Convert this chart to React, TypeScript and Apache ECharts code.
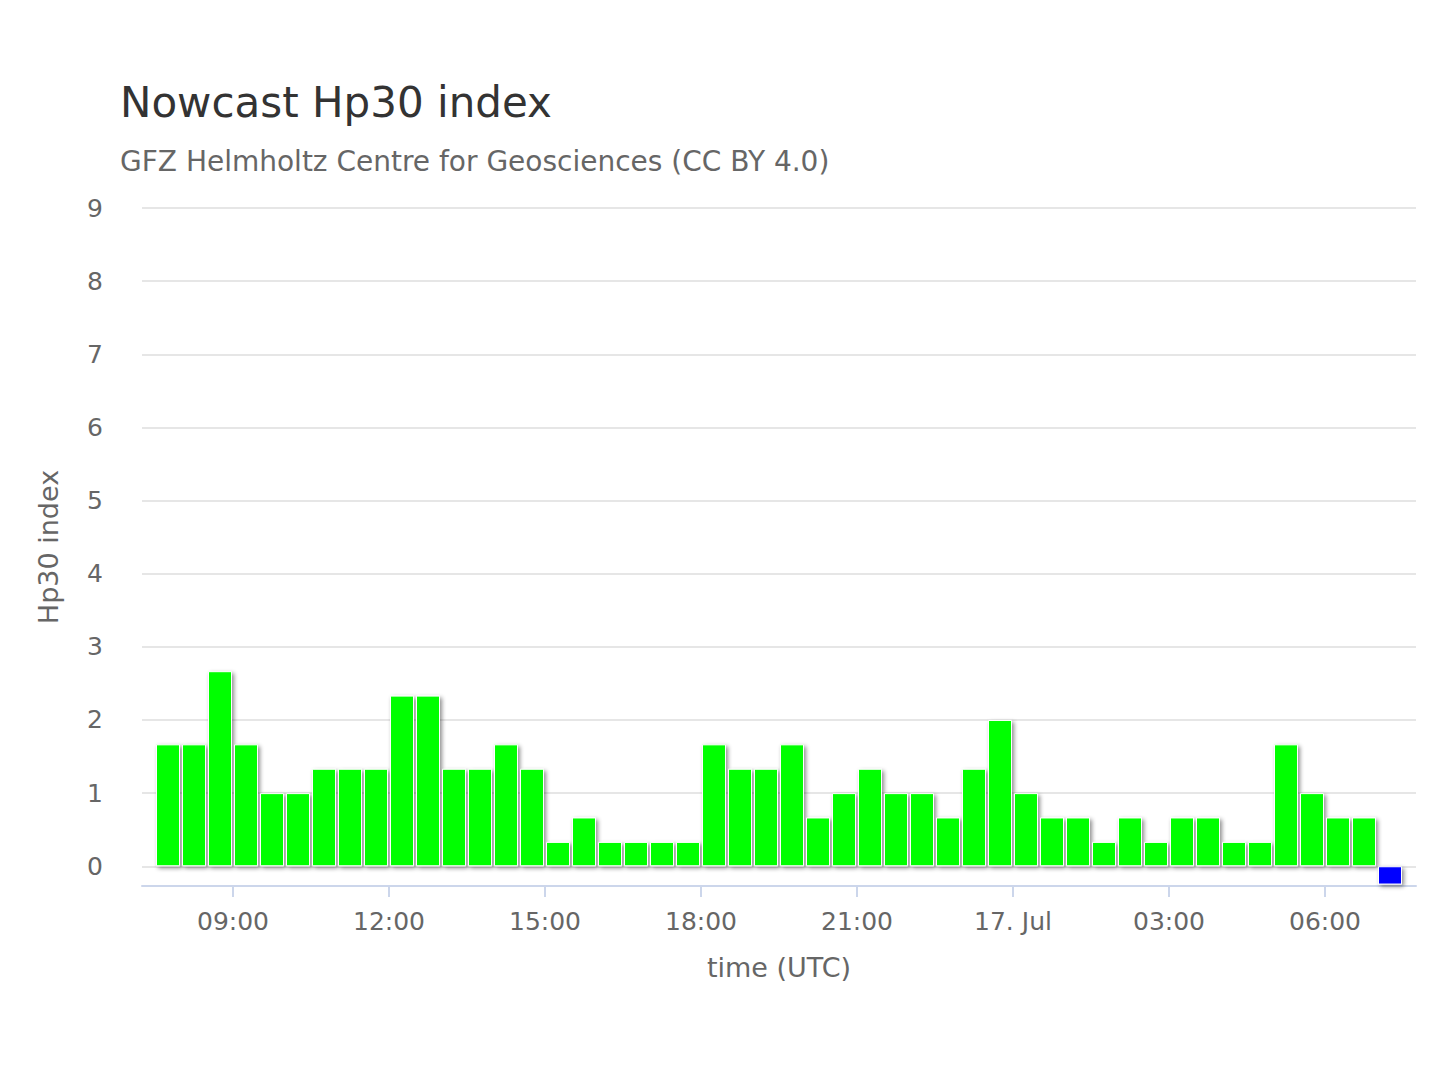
import React, { useEffect, useRef } from "react";
import * as echarts from "echarts";

// Time in hours since 16 Jul 00:00 UTC. Half-hourly Hp30 bars, first bar centred at 07:45.
const startCentreHour = 7.75;
const stepHour = 0.5;
const hp30Values = [
  1.667, 1.667, 2.667, 1.667, 1.0, 1.0, 1.333, 1.333, 1.333, 2.333, 2.333, 1.333,
  1.333, 1.667, 1.333, 0.333, 0.667, 0.333, 0.333, 0.333, 0.333, 1.667, 1.333, 1.333,
  1.667, 0.667, 1.0, 1.333, 1.0, 1.0, 0.667, 1.333, 2.0, 1.0, 0.667, 0.667,
  0.333, 0.667, 0.333, 0.667, 0.667, 0.333, 0.333, 1.667, 1.0, 0.667, 0.667, -0.25,
];
const pendingIndex = 47; // last (not yet final) value drawn in blue
const xMin = 7.25;
const xMax = 31.75;
const xTicks = [9, 12, 15, 18, 21, 24, 27, 30];
const yTicks = [0, 1, 2, 3, 4, 5, 6, 7, 8, 9];
const yMin = -0.27;
const yMax = 9;

const FONT = "'DejaVu Sans', 'Lucida Grande', sans-serif";

function fmtX(v: number): string {
  const h = Math.round(v) % 24;
  if (h === 0) return "17. Jul";
  return `${String(h).padStart(2, "0")}:00`;
}

export default function App() {
  const ref = useRef<HTMLDivElement>(null);
  useEffect(() => {
    document.body.style.margin = "0";
    if (!ref.current) return;
    const chart = echarts.init(ref.current, undefined, { renderer: "svg" });
    const data = hp30Values.map((v, i) => {
      const item: any = { value: [startCentreHour + i * stepHour, v] };
      if (i === pendingIndex) item.itemStyle = { color: "#0000ff" };
      return item;
    });
    chart.setOption({
      animation: false,
      backgroundColor: "#ffffff",
      textStyle: { fontFamily: FONT },
      title: [
        {
          text: "Nowcast Hp30 index",
          left: 120,
          top: 81,
          padding: 0,
          textStyle: { fontSize: 42, fontWeight: "normal", color: "#333333", fontFamily: FONT },
        },
        {
          text: "GFZ Helmholtz Centre for Geosciences (CC BY 4.0)",
          left: 120,
          top: 147,
          padding: 0,
          textStyle: { fontSize: 28, fontWeight: "normal", color: "#666666", fontFamily: FONT },
        },
      ],
      grid: { left: 142, right: 24, top: 208, bottom: 194, containLabel: false },
      xAxis: {
        type: "value",
        min: xMin,
        max: xMax,
        name: "time (UTC)",
        nameLocation: "middle",
        nameGap: 68,
        nameTextStyle: { fontSize: 27, color: "#666666", fontFamily: FONT },
        axisLine: { show: true, onZero: false, lineStyle: { color: "#ccd6eb", width: 2 } },
        axisTick: { show: true, length: 11, customValues: xTicks, lineStyle: { color: "#ccd6eb", width: 2 } },
        axisLabel: {
          customValues: xTicks,
          formatter: (v: number) => fmtX(v),
          fontSize: 25,
          color: "#666666",
          margin: 23,
          fontFamily: FONT,
        },
        splitLine: { show: false },
      },
      yAxis: {
        type: "value",
        min: yMin,
        max: yMax,
        name: "Hp30 index",
        nameLocation: "middle",
        nameGap: 80,
        nameRotate: 90,
        nameTextStyle: { fontSize: 27, color: "#666666", fontFamily: FONT },
        axisLine: { show: false },
        axisTick: { show: false, customValues: yTicks },
        axisLabel: {
          customValues: yTicks,
          fontSize: 25,
          color: "#666666",
          margin: 39,
          fontFamily: FONT,
        },
        splitLine: { show: true, lineStyle: { color: "#e6e6e6", width: 2 } },
      },
      series: [
        {
          type: "bar",
          data,
          barWidth: 24,
          itemStyle: {
            color: "#00ff00",
            borderColor: "#ffffff",
            borderWidth: 1,
            shadowColor: "rgba(0,0,0,0.45)",
            shadowBlur: 4,
            shadowOffsetX: 2,
            shadowOffsetY: 2,
          },
          emphasis: { disabled: true },
        },
      ],
    });
    return () => chart.dispose();
  }, []);
  return <div ref={ref} style={{ width: 1440, height: 1080 }} />;
}
